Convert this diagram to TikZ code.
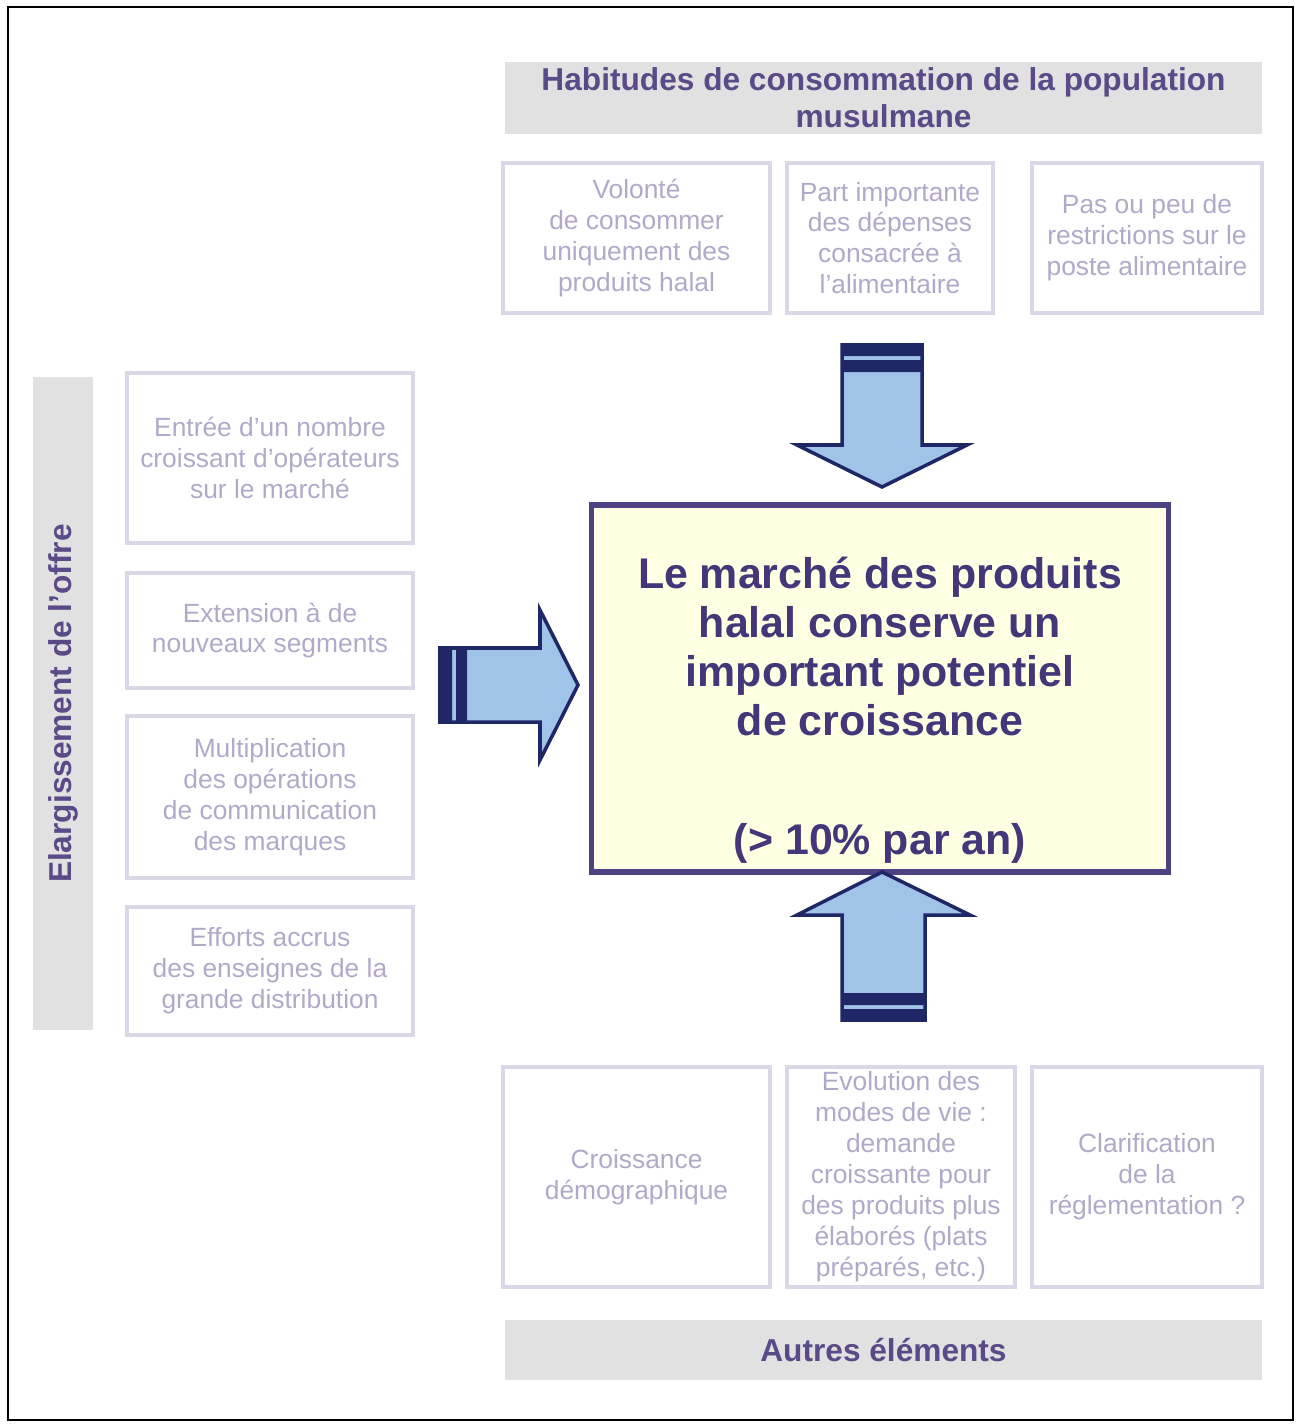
\documentclass[tikz,border=0pt]{standalone}
\usepackage{fontspec}
\setmainfont{Liberation Sans}
\usepackage{tikz}
\usetikzlibrary{calc}
\definecolor{hdrgray}{HTML}{E1E1E1}
\definecolor{hdrtxt}{HTML}{5A4A88}
\definecolor{boxline}{HTML}{DCD7E7}
\definecolor{boxtxt}{HTML}{B2A9C9}
\definecolor{mktline}{HTML}{4E4283}
\definecolor{mktfill}{HTML}{FFFFE3}
\definecolor{mkttxt}{HTML}{43377A}
\definecolor{arrfill}{HTML}{9FC4E7}
\definecolor{arrline}{HTML}{1F2766}

\begin{document}
\begin{tikzpicture}[x=0.01cm,y=-0.01cm,
		hdr/.style={fill=hdrgray,text=hdrtxt,font=\fontsize{9}{10.5}\selectfont\bfseries,align=center,inner sep=0pt},
		cell/.style={draw=boxline,line width=1.2pt,fill=white,text=boxtxt,font=\fontsize{7.5}{8.8}\selectfont,align=center,inner sep=0pt},
		blockarr/.style={draw=arrline,line width=1pt,fill=arrfill,line join=miter}]
			\useasboundingbox (0,0) rectangle (1296,1424);
			\draw[line width=.6pt] (8,7) rectangle (1293,1420);%cadre
			% en-tetes
			\node[hdr,minimum width=7.57cm,minimum height=.72cm] (hdrtop) at (883.5,98) {Habitudes de consommation de la population\\musulmane};
			\node[hdr,minimum width=7.57cm,minimum height=.6cm] (hdrbot) at (883.5,1350) {Autres éléments};
			\node[hdr,rotate=90,minimum width=6.53cm,minimum height=.6cm] (offre) at (63,703.5) {Elargissement de l'offre};
			% cases du haut
			\node[cell,minimum width=2.67cm,minimum height=1.5cm] (wish) at (636.5,238) {Volonté\\de consommer\\uniquement des\\produits halal};
			\node[cell,minimum width=2.06cm,minimum height=1.5cm] (spend) at (890,238) {Part importante\\des dépenses\\consacrée à\\l'alimentaire};
			\node[cell,minimum width=2.3cm,minimum height=1.5cm] (norestr) at (1147,238) {Pas ou peu de\\restrictions sur le\\poste alimentaire};
			% cases de gauche
			\node[cell,minimum width=2.86cm,minimum height=1.7cm] (entry) at (270,458) {Entrée d'un nombre\\croissant d'opérateurs\\sur le marché};
			\node[cell,minimum width=2.86cm,minimum height=1.15cm] (segm) at (270,630.5) {Extension à de\\nouveaux segments};
			\node[cell,minimum width=2.86cm,minimum height=1.62cm] (comm) at (270,797) {Multiplication\\des opérations\\de communication\\des marques};
			\node[cell,minimum width=2.86cm,minimum height=1.28cm] (retail) at (270,971) {Efforts accrus\\des enseignes de la\\grande distribution};
			% cases du bas
			\node[cell,minimum width=2.67cm,minimum height=2.2cm] (demo) at (636.5,1177) {Croissance\\démographique};
			\node[cell,minimum width=2.28cm,minimum height=2.2cm] (life) at (901,1177) {Evolution des\\modes de vie :\\demande\\croissante pour\\des produits plus\\élaborés (plats\\préparés, etc.)};
			\node[cell,minimum width=2.3cm,minimum height=2.2cm] (regul) at (1147,1177) {Clarification\\de la\\réglementation ?};
			% marche
			\node[draw=mktline,line width=1.5pt,fill=mktfill,minimum width=5.76cm,minimum height=3.67cm] (mkt) at (880,688.5) {};
			\node[text=mkttxt,font=\fontsize{12.2}{13.9}\selectfont\bfseries,align=center] (mktlbl) at ($(mkt.center)+(0,22)$) {Le marché des produits\\halal conserve un\\important potentiel\\de croissance\\[20pt](> 10\% par an)};
			% fleches
			\draw[blockarr] (842,345)--(922,345)--(922,445)--(967,445)--(882,487)--(797,445)--(842,445)--cycle;
			\fill[arrline] (842,345) rectangle (922,356) (842,360) rectangle (922,372);
			\draw[blockarr] (842,1020)--(925,1020)--(925,915)--(970,915)--(882,872)--(797,915)--(842,915)--cycle;
			\fill[arrline] (842,1020) rectangle (925,1009) (842,1005) rectangle (925,993);
			\draw[blockarr] (440,648)--(540,648)--(540,610)--(578,685)--(540,760)--(540,722)--(440,722)--cycle;
			\fill[arrline] (440,648) rectangle (452,722) (456,648) rectangle (467,722);
		\end{tikzpicture}
\end{document}
